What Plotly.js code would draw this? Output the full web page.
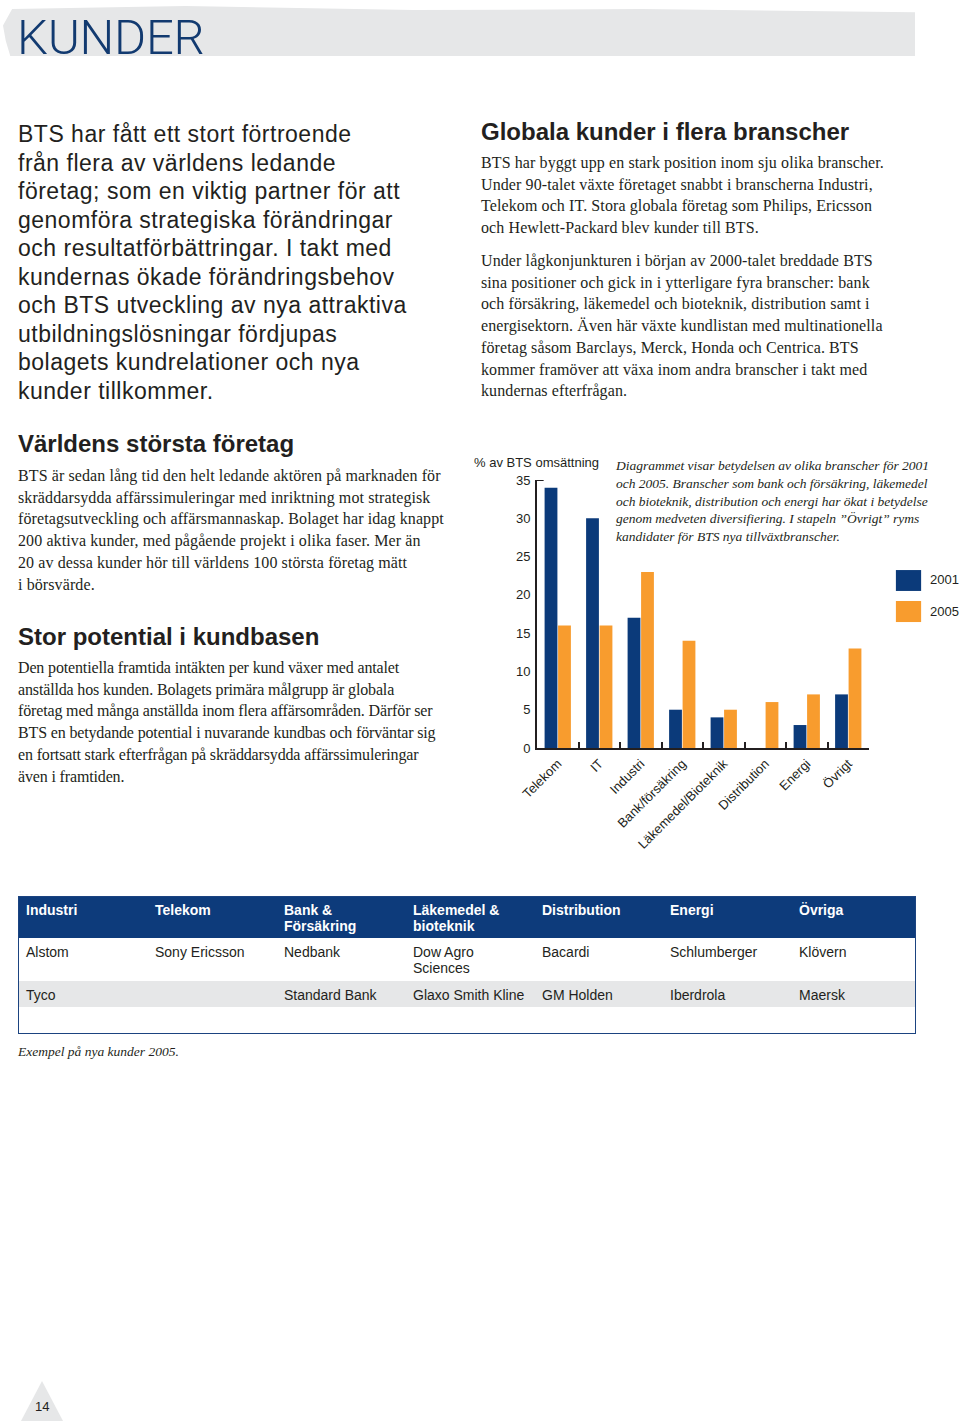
<!DOCTYPE html>
<html>
<head>
<meta charset="utf-8">
<script src="https://cdn.plot.ly/plotly-3.0.1.min.js"></script>
<style>
  html, body { margin:0; padding:0; background:#fff; }
  body { width:960px; height:1423px; position:relative; overflow:hidden; color:#231f20; }
  .abs { position:absolute; white-space:nowrap; }
  .sans { font-family:"Liberation Sans", Arial, Helvetica, sans-serif; }
  .serif { font-family:"Liberation Serif", "Times New Roman", serif; }
  #hdr { position:absolute; left:3px; top:5px; width:912px; height:51px; background:#e6e7e8;
         clip-path: polygon(1% 8%, 20% 2%, 45% 10%, 70% 8%, 100% 14%, 100% 100%, 0.8% 100%, 0.3% 70%, 0% 40%); }
  #kunder { left:17px; top:9px; font-family:"Roboto","Liberation Sans",sans-serif; font-weight:300; font-size:49px; color:#123a70; letter-spacing:-0.3px; }
  .intro { left:18px; top:120px; font-size:23px; line-height:28.5px; letter-spacing:0.5px; }
  .h2 { font-weight:bold; font-size:24px; letter-spacing:0px; }
  .body15 { font-size:16px; line-height:21.7px; letter-spacing:0.1px; }
  .cap { font-style:italic; font-size:13.5px; line-height:17.8px; }
  #chart { position:absolute; left:460px; top:440px; width:500px; height:420px; }
  #tbl { position:absolute; left:18px; top:896px; width:896px; height:136px; border:1px solid #1b4380; }
  .cell { position:absolute; font-size:14px; line-height:16px; white-space:nowrap; }
</style>
</head>
<body>
<div id="hdr"></div>
<div id="kunder" class="abs">KUNDER</div>

<div class="abs sans intro">BTS har fått ett stort förtroende<br>från flera av världens ledande<br>företag; som en viktig partner för att<br>genomföra strategiska förändringar<br>och resultatförbättringar. I takt med<br>kundernas ökade förändringsbehov<br>och BTS utveckling av nya attraktiva<br>utbildningslösningar fördjupas<br>bolagets kundrelationer och nya<br>kunder tillkommer.</div>

<div class="abs sans h2" style="left:481px; top:118px;">Globala kunder i flera branscher</div>
<div class="abs serif body15" style="left:481px; top:152px;">BTS har byggt upp en stark position inom sju olika branscher.<br>Under 90-talet växte företaget snabbt i branscherna Industri,<br>Telekom och IT. Stora globala företag som Philips, Ericsson<br>och Hewlett-Packard blev kunder till BTS.</div>
<div class="abs serif body15" style="left:481px; top:250px;">Under lågkonjunkturen i början av 2000-talet breddade BTS<br>sina positioner och gick in i ytterligare fyra branscher: bank<br>och försäkring, läkemedel och bioteknik, distribution samt i<br>energisektorn. Även här växte kundlistan med multinationella<br>företag såsom Barclays, Merck, Honda och Centrica. BTS<br>kommer framöver att växa inom andra branscher i takt med<br>kundernas efterfrågan.</div>

<div class="abs sans h2" style="left:18px; top:430px;">Världens största företag</div>
<div class="abs serif body15" style="left:18px; top:465px;">BTS är sedan lång tid den helt ledande aktören på marknaden för<br>skräddarsydda affärssimuleringar med inriktning mot strategisk<br>företagsutveckling och affärsmannaskap. Bolaget har idag knappt<br>200 aktiva kunder, med pågående projekt i olika faser. Mer än<br>20 av dessa kunder hör till världens 100 största företag mätt<br>i börsvärde.</div>

<div class="abs sans h2" style="left:18px; top:623px;">Stor potential i kundbasen</div>
<div class="abs serif body15" style="left:18px; top:657px; letter-spacing:-0.15px;">Den potentiella framtida intäkten per kund växer med antalet<br>anställda hos kunden. Bolagets primära målgrupp är globala<br>företag med många anställda inom flera affärsområden. Därför ser<br>BTS en betydande potential i nuvarande kundbas och förväntar sig<br>en fortsatt stark efterfrågan på skräddarsydda affärssimuleringar<br>även i framtiden.</div>

<div id="chart"></div>

<div class="abs serif cap" style="left:616px; top:457px; z-index:5;">Diagrammet visar betydelsen av olika branscher för 2001<br>och 2005. Branscher som bank och försäkring, läkemedel<br>och bioteknik, distribution och energi har ökat i betydelse<br>genom medveten diversifiering. I stapeln ”Övrigt” ryms<br>kandidater för BTS nya tillväxtbranscher.</div>

<div id="tbl"></div>
<div class="abs serif cap" style="left:18px; top:1043px;">Exempel på nya kunder 2005.</div>

<svg class="abs" style="left:0; top:1375px;" width="80" height="48">
  <polygon points="42,6 21,46 63,46" fill="#e6e7e8"/>
</svg>
<div class="abs sans" style="left:35px; top:1399px; font-size:13px;">14</div>

<script>
// ---- chart data ----
const categories = ["Telekom", "IT", "Industri", "Bank/försäkring", "Läkemedel/Bioteknik", "Distribution", "Energi", "Övrigt"];
const values2001 = [34, 30, 17, 5, 4, 0, 3, 7];
const values2005 = [16, 16, 23, 14, 5, 6, 7, 13];
const seriesNames = ["2001", "2005"];
const yTicks = [0, 5, 10, 15, 20, 25, 30, 35];

// ---- table data ----
const tableHeaders = ["Industri", "Telekom", "Bank &<br>Försäkring", "Läkemedel &<br>bioteknik", "Distribution", "Energi", "Övriga"];
const tableRow1 = ["Alstom", "Sony Ericsson", "Nedbank", "Dow Agro<br>Sciences", "Bacardi", "Schlumberger", "Klövern"];
const tableRow2 = ["Tyco", "", "Standard Bank", "Glaxo Smith Kline", "GM Holden", "Iberdrola", "Maersk"];

const BLUE = "#0b3a7a", ORANGE = "#f89c2e", INK = "#231f20";
const F = "Liberation Sans, Arial, sans-serif";

const traces = [
  { type: "bar", name: seriesNames[0], x: categories, y: values2001, marker: { color: BLUE }, showlegend: false, hoverinfo: "skip" },
  { type: "bar", name: seriesNames[1], x: categories, y: values2005, marker: { color: ORANGE }, showlegend: false, hoverinfo: "skip" }
];

const layout = {
  width: 500, height: 420,
  margin: { l: 77, r: 91, t: 40, b: 112 },
  paper_bgcolor: "rgba(0,0,0,0)", plot_bgcolor: "rgba(0,0,0,0)",
  barmode: "group", bargap: 0.35, bargroupgap: 0.05,
  font: { family: F, size: 13, color: INK },
  xaxis: {
    type: "category", showline: true, linecolor: INK, linewidth: 2,
    ticks: "inside", tickson: "boundaries", ticklen: 6, tickwidth: 2, tickcolor: INK,
    tickangle: -45, tickfont: { family: F, size: 13, color: INK }, showgrid: false, zeroline: false,
    ticklabelstandoff: 1
  },
  yaxis: {
    range: [0, 35], tickvals: yTicks, showline: true, linecolor: INK, linewidth: 2,
    ticks: "", showgrid: false, zeroline: false, tickfont: { family: F, size: 13, color: INK },
    ticklabelstandoff: 2
  },
  shapes: [
    { type: "line", xref: "paper", yref: "y", x0: 0, x1: 0.02, y0: 35, y1: 35, line: { color: INK, width: 2 } },
    { type: "rect", xref: "paper", yref: "paper", x0: 1.081, x1: 1.157, y0: 0.586, y1: 0.664, fillcolor: BLUE, line: { width: 0 } },
    { type: "rect", xref: "paper", yref: "paper", x0: 1.081, x1: 1.157, y0: 0.470, y1: 0.5485, fillcolor: ORANGE, line: { width: 0 } }
  ],
  annotations: [
    { text: "% av BTS omsättning", xref: "paper", yref: "paper", x: -0.195, y: 1.067, xanchor: "left", yanchor: "middle", showarrow: false, font: { family: F, size: 13, color: INK } },
    { text: seriesNames[0], xref: "paper", yref: "paper", x: 1.177, y: 0.627, xanchor: "left", yanchor: "middle", showarrow: false, font: { family: F, size: 13, color: INK } },
    { text: seriesNames[1], xref: "paper", yref: "paper", x: 1.177, y: 0.511, xanchor: "left", yanchor: "middle", showarrow: false, font: { family: F, size: 13, color: INK } }
  ]
};

Plotly.newPlot("chart", traces, layout, { staticPlot: true, displayModeBar: false });

// ---- table ----
const tbl = document.getElementById("tbl");
const colX = [7, 136, 265, 394, 523, 651, 780];
function rect(top, h, color) {
  const d = document.createElement("div");
  d.style.cssText = `position:absolute;left:0;top:${top}px;width:896px;height:${h}px;background:${color};`;
  tbl.appendChild(d);
}
rect(0, 41, "#0d3b7b");
rect(84, 26, "#e6e7e8");
function row(cells, top, style) {
  cells.forEach((t, i) => {
    const d = document.createElement("div");
    d.className = "cell sans";
    d.style.left = colX[i] + "px";
    d.style.top = top + "px";
    d.style.cssText += style;
    d.innerHTML = t;
    tbl.appendChild(d);
  });
}
row(tableHeaders, 5, "color:#fff;font-weight:bold;");
row(tableRow1, 47, "color:" + INK + ";");
row(tableRow2, 90, "color:" + INK + ";");
</script>
</body>
</html>
